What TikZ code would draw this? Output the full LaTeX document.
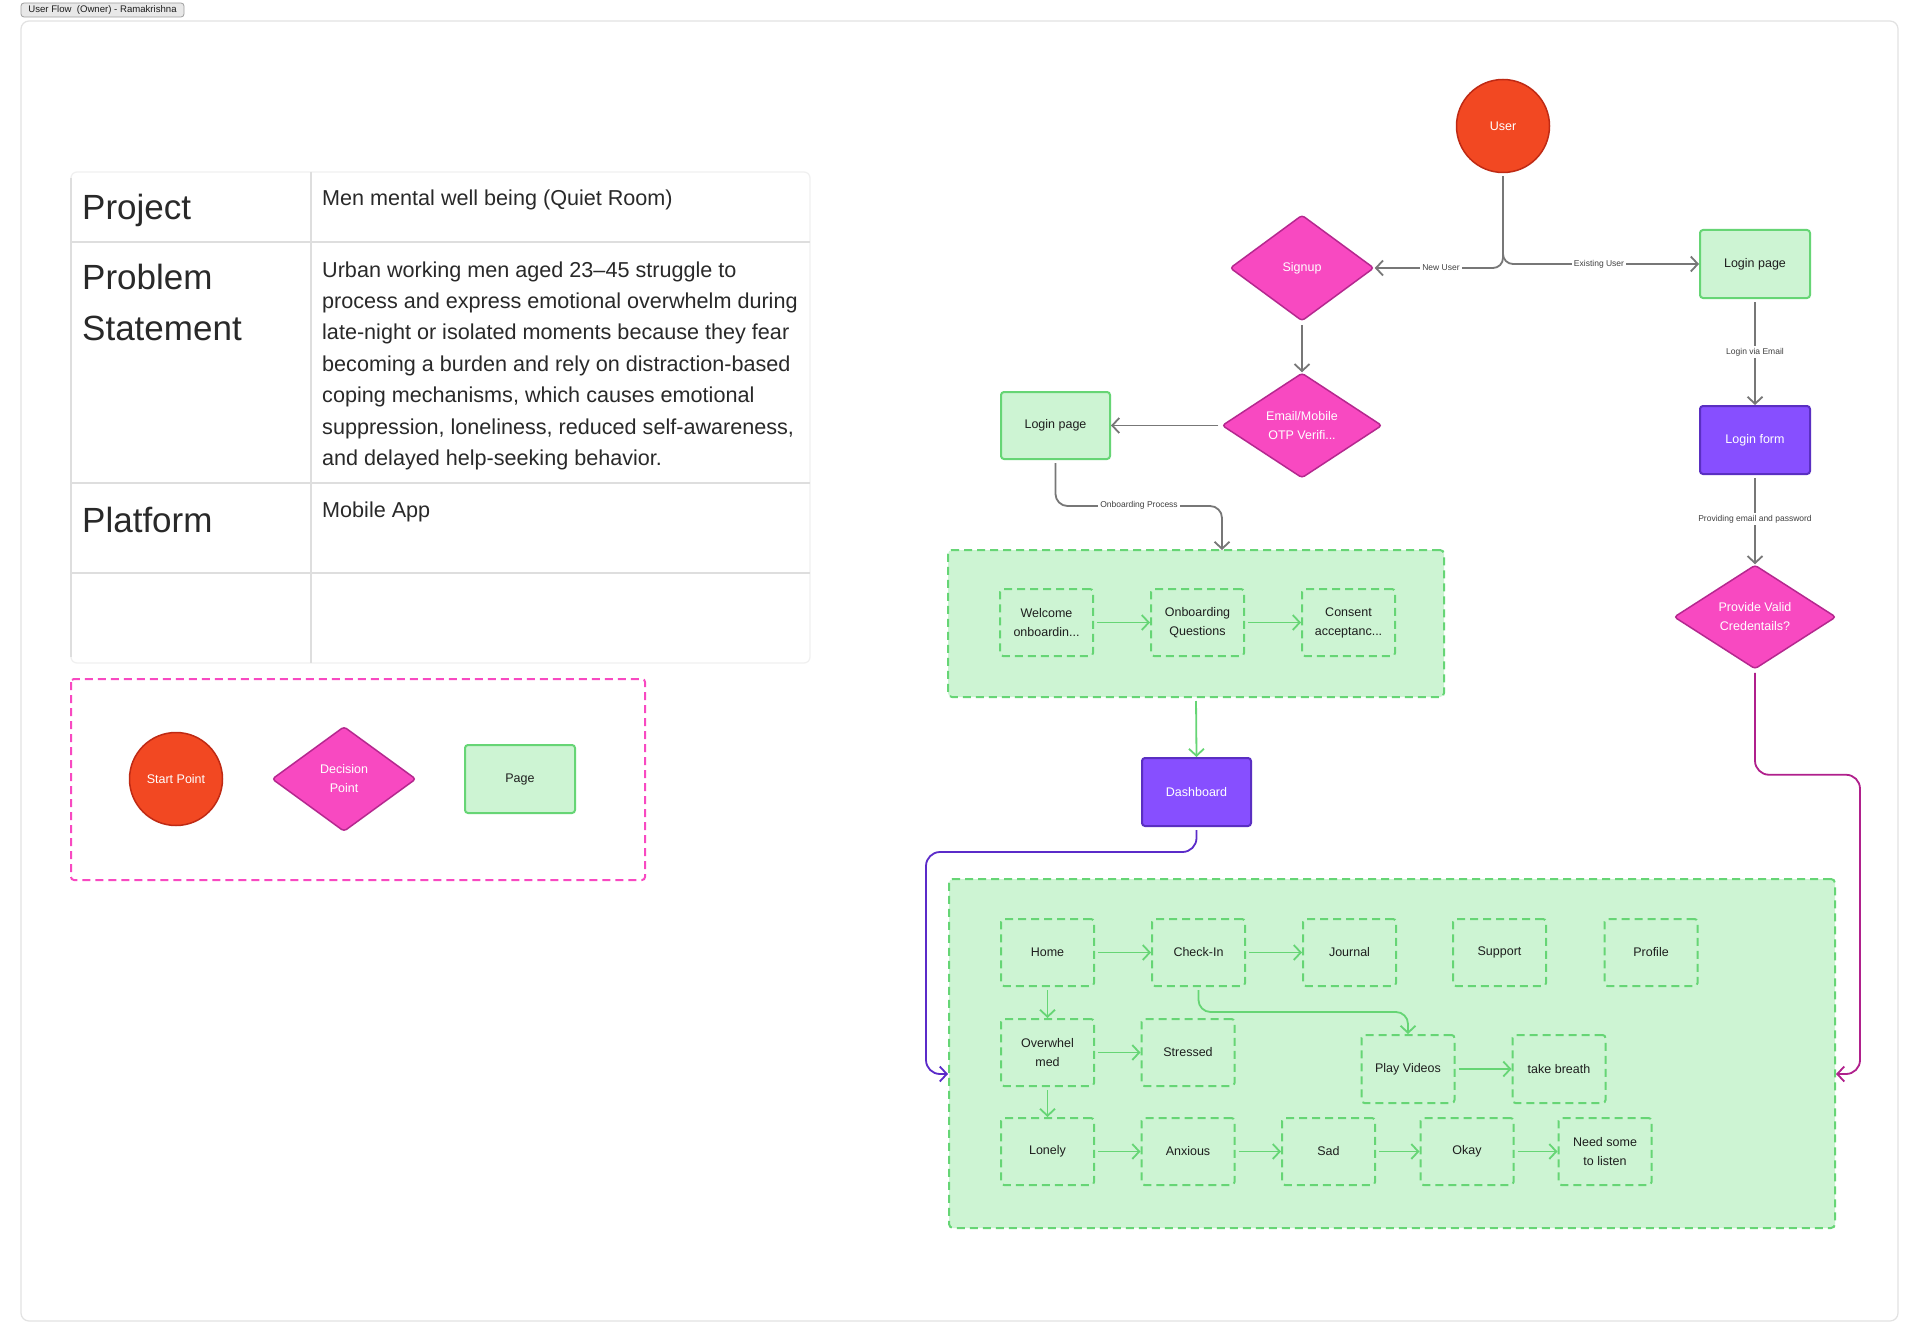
\documentclass[tikz,border=0pt]{standalone}
\usepackage{fontspec}
\setmainfont{Liberation Sans}
\usetikzlibrary{arrows.meta,shapes.geometric,calc}
\definecolor{cred}{HTML}{F24822}
\definecolor{credd}{HTML}{BF2A14}
\definecolor{cpink}{HTML}{F849C1}
\definecolor{cpinkd}{HTML}{B5288F}
\definecolor{cgreen}{HTML}{CDF4D3}
\definecolor{cgreend}{HTML}{66D575}
\definecolor{cpurple}{HTML}{874FFF}
\definecolor{cpurpled}{HTML}{5A2FC2}
\definecolor{cgray}{HTML}{777777}
\definecolor{ctext}{HTML}{1E1E1E}
\definecolor{cmag}{HTML}{B0208C}
\definecolor{cviolet}{HTML}{5B2BC9}
\definecolor{cframe}{HTML}{E2E2E2}
\definecolor{cline}{HTML}{DEDEDE}
\newcommand\fsz[2]{\fontsize{#1}{#2}\selectfont}
\tikzset{
  base/.style={font=\fsz{12.5}{19}, align=center, inner sep=0pt},
  startnode/.style={base, circle, fill=cred, draw=credd, line width=1.5pt, minimum size=93pt, text=white},
  decnode/.style={base, diamond, fill=cpink, draw=cpinkd, line width=1.5pt, rounded corners=3pt, text=white},
  pagenode/.style={base, rectangle, fill=cgreen, draw=cgreend, line width=2pt, rounded corners=3pt, minimum width=110pt, minimum height=68pt, text=ctext},
  purplenode/.style={base, rectangle, fill=cpurple, draw=cpurpled, line width=2pt, rounded corners=3pt, minimum width=110pt, minimum height=68pt, text=white},
  groupbox/.style={rectangle, fill=cgreen, draw=cgreend, line width=2pt, dash pattern=on 8pt off 5pt, rounded corners=4pt, inner sep=0pt},
  subbox/.style={base, rectangle, draw=cgreend, line width=2pt, dash pattern=on 8pt off 5pt, rounded corners=3pt, minimum width=93pt, minimum height=67pt, text=ctext},
  tip/.style={-{Straight Barb[length=7pt,width=15pt]}},
  gconn/.style={draw=cgray, line width=1.8pt, tip, rounded corners=12pt, shorten <=3pt},
  grconn/.style={draw=cgreend, line width=1.8pt, tip, rounded corners=12pt, shorten <=3pt},
  magconn/.style={draw=cmag, line width=1.8pt, tip, rounded corners=14pt, shorten <=3pt},
  vioconn/.style={draw=cviolet, line width=1.8pt, tip, rounded corners=14pt, shorten <=3pt},
  clabel/.style={fill=white, inner sep=2pt, font=\fsz{8.5}{10}, text=ctext!85},
  tlabel/.style={anchor=base west, inner sep=0pt, font=\fsz{35}{40}, text=ctext!95},
  tvalue/.style={anchor=base west, inner sep=0pt, font=\fsz{21.6}{25}, text=ctext!95},
}
\begin{document}
\begin{tikzpicture}[x=1pt,y=-1pt]
\useasboundingbox (0,0) rectangle (1920,1343);
\fill[white] (0,0) rectangle (1920,1343);
% frame and tag
\draw[cframe, line width=1.2pt, rounded corners=8pt] (21,21) rectangle (1898,1321);
\node[rectangle, fill=black!9, draw=black!38, line width=0.8pt, rounded corners=3pt, minimum width=163pt, minimum height=14pt, inner sep=0pt, font=\fsz{9.6}{11}, text=ctext] (tag) at (102.5,10) {User Flow\ \ (Owner) - Ramakrishna};

% table
\draw[black!6, line width=1.2pt, rounded corners=6pt] (71,172) rectangle (810,663);
\draw[cline, line width=1.3pt] (71,178) -- (71,657);
\draw[cline, line width=1.3pt] (311,172) -- (311,663);
\draw[cline, line width=1.3pt] (71,242) -- (810,242) (71,483) -- (810,483) (71,573) -- (810,573);
\node[tlabel] (tproj) at (82,220) {Project};
\node[tlabel] (tprob1) at (82,290) {Problem};
\node[tlabel] (tprob2) at (82,340) {Statement};
\node[tlabel] (tplat) at (82,532) {Platform};
\node[tvalue] (vproj) at (322,206) {Men mental well being (Quiet Room)};
\node[tvalue] (vp1) at (322,277) {Urban working men aged 23–45 struggle to};
\node[tvalue] (vp2) at (322,308.4) {process and express emotional overwhelm during};
\node[tvalue] (vp3) at (322,339.8) {late-night or isolated moments because they fear};
\node[tvalue] (vp4) at (322,371.2) {becoming a burden and rely on distraction-based};
\node[tvalue] (vp5) at (322,402.6) {coping mechanisms, which causes emotional};
\node[tvalue] (vp6) at (322,434) {suppression, loneliness, reduced self-awareness,};
\node[tvalue] (vp7) at (322,465.4) {and delayed help-seeking behavior.};
\node[tvalue] (vplat) at (322,517) {Mobile App};

% legend
\draw[cpink, line width=2pt, dash pattern=on 8pt off 5pt, rounded corners=3pt] (71,679) rectangle (645,880);
\node[startnode] (lgstart) at (176,779) {Start Point};
\node[decnode, minimum width=144pt, minimum height=105pt] (lgdec) at (344,779) {Decision\\Point};
\node[pagenode] (lgpage) at (520,779) {Page};

% groups
\node[groupbox, minimum width=496pt, minimum height=147pt] (onb) at (1196,623.5) {};
\node[groupbox, minimum width=886pt, minimum height=349pt] (main) at (1392,1053.5) {};

% main flow nodes
\node[startnode] (user) at (1503,126) {User};
\node[decnode, minimum width=144pt, minimum height=106pt] (signup) at (1302,268) {Signup};
\node[pagenode] (loginA) at (1755,264) {Login page};
\node[purplenode] (lform) at (1755,440) {Login form};
\node[decnode, minimum width=162pt, minimum height=104pt] (cred) at (1755,617) {Provide Valid\\Credentails?};
\node[decnode, minimum width=160pt, minimum height=105pt] (email) at (1302,425.5) {Email/Mobile\\OTP Verifi...};
\node[pagenode, minimum width=109pt, minimum height=67pt] (loginB) at (1055.5,425.5) {Login page};
\node[subbox] (welcome) at (1046.5,622.5) {Welcome\\onboardin...};
\node[subbox] (onbq) at (1197.5,622.5) {Onboarding\\Questions};
\node[subbox] (consent) at (1348.5,622.5) {Consent\\acceptanc...};
\node[purplenode, minimum width=109pt] (dashb) at (1196.5,792) {Dashboard};

\node[subbox] (home) at (1047.5,952.5) {Home};
\node[subbox] (checkin) at (1198.5,952.5) {Check-In};
\node[subbox] (journal) at (1349.5,952.5) {Journal};
\node[subbox] (support) at (1499.5,952.5) {Support};
\node[subbox] (profile) at (1651,952.5) {Profile};
\node[subbox] (over) at (1047.5,1052.5) {Overwhel\\med};
\node[subbox] (stressed) at (1188,1052.5) {Stressed};
\node[subbox, minimum height=68pt] (play) at (1408,1069) {Play Videos};
\node[subbox, minimum height=68pt] (breath) at (1559,1069) {take breath};
\node[subbox] (lonely) at (1047.5,1151.5) {Lonely};
\node[subbox] (anxious) at (1188,1151.5) {Anxious};
\node[subbox] (sad) at (1328.5,1151.5) {Sad};
\node[subbox] (okay) at (1467,1151.5) {Okay};
\node[subbox] (need) at (1605,1151.5) {Need some\\to listen};

% connectors (gray)
\draw[gconn, rounded corners=10pt] (user.south) |- (signup.east);
\draw[gconn, rounded corners=10pt] (user.south) |- (loginA.west);
\node[clabel] (lnew) at (1441,268) {New User};
\node[clabel] (lexist) at (1599,264) {Existing User};
\draw[gconn] (loginA.south) -- (lform.north);
\node[clabel] (lvia) at (1755,352) {Login via Email};
\draw[gconn] (lform.south) -- (cred.north);
\node[clabel] (lprov) at (1755,519) {Providing email and password};
\draw[gconn] (signup.south) -- (email.north);
\draw[gconn] (email.west) -- (loginB.east);
\coordinate (obin) at (1222,550);
\draw[gconn] (loginB.south) -- ++(0,46) -| (obin);
\node[clabel] (lonbp) at (1139,505) {Onboarding Process};

% green connectors
\draw[grconn] (welcome.east) -- (onbq.west);
\draw[grconn] (onbq.east) -- (consent.west);
\draw[grconn] (onb.south) -- (dashb.north);
\draw[grconn] (home.east) -- (checkin.west);
\draw[grconn] (checkin.east) -- (journal.west);
\draw[grconn] (home.south) -- (over.north);
\draw[grconn] (over.east) -- (stressed.west);
\draw[grconn] (over.south) -- (lonely.north);
\draw[grconn] (lonely.east) -- (anxious.west);
\draw[grconn] (anxious.east) -- (sad.west);
\draw[grconn] (sad.east) -- (okay.west);
\draw[grconn] (okay.east) -- (need.west);
\draw[grconn] (play.east) -- (breath.west);
\draw[grconn] (checkin.south) -- ++(0,25) -| (play.north);

% dashboard and credentials connectors
\coordinate (ml) at (926,1074);
\draw[vioconn] (dashb.south) -- ++(0,25) -| (ml) -- (main.west |- ml);
\coordinate (mr) at (1860,1074);
\draw[magconn] (cred.south) -- ++(0,105) -| (mr) -- (main.east |- mr);
\end{tikzpicture}
\end{document}
